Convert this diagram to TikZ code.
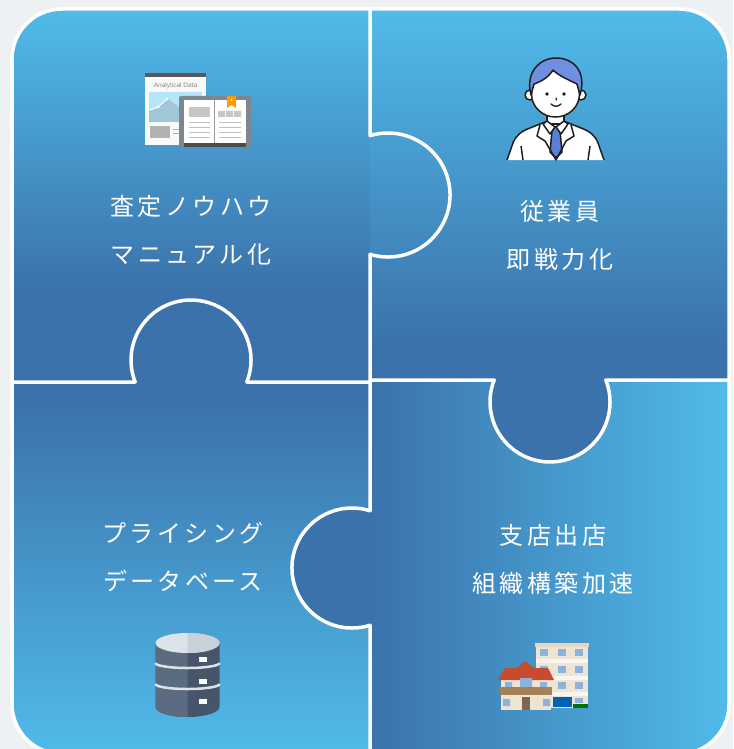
\documentclass[tikz,border=0pt]{standalone}
\usepackage{fontspec}
\usepackage{xcolor}
\newfontfamily\jpfont[LetterSpace=14]{Noto Sans CJK JP}
\newfontfamily\tinyfont{Liberation Sans}

\definecolor{pzlight}{HTML}{50BBEA}
\definecolor{pzdark}{HTML}{3B72AB}
\definecolor{bgcol}{HTML}{EEF1F4}
\definecolor{inkcol}{HTML}{1E1E1E}
\definecolor{hairblue}{HTML}{6F8FE0}
\definecolor{tieblue}{HTML}{5B7FD8}
\definecolor{dbside}{HTML}{5B6B80}
\definecolor{dbshadow}{HTML}{46556A}
\definecolor{dbtop}{HTML}{DCE4EA}
\definecolor{wallcol}{HTML}{EEE4D4}
\definecolor{roofred}{HTML}{C94A2E}
\definecolor{winblue}{HTML}{8DB3DD}
\definecolor{bookgray}{HTML}{7D8790}

\begin{document}
\begin{tikzpicture}[x=1pt,y=-1pt]
    \tikzstyle{pztext} = [text=white, font=\jpfont\fontsize{24}{48}\selectfont, align=center]
    \tikzstyle{seam} = [white, line width=3.5pt, line join=round]
    \tikzstyle{ink} = [draw=inkcol, line width=1.5pt, line join=round]

    \useasboundingbox (0,0) rectangle (733,749);
    \fill[bgcol] (0,0) rectangle (733,749);

    % the four puzzle pieces
    \begin{scope}
        \clip[rounded corners=50pt] (12,9) rectangle (729,754);
        % top left
        \shade[top color=pzlight, bottom color=pzdark] (12,9) rectangle (370,290);
        \fill[pzdark] (12,290) rectangle (370,382);
        \begin{scope}
            \clip (388,195) circle[radius=62];
            \shade[top color=pzlight, bottom color=pzdark] (12,9) rectangle (460,290);
        \end{scope}
        % top right
        \shade[top color=pzlight, bottom color=pzdark] (370,9) rectangle (729,345);
        \fill[pzdark] (370,345) rectangle (729,380);
        % bottom left
        \fill[pzdark] (12,382) rectangle (370,400);
        \shade[top color=pzdark, bottom color=pzlight] (12,400) rectangle (370,754);
        \begin{scope}
            \clip (12,290) rectangle (370,382);
            \fill[pzdark] (191,360) circle[radius=60];
        \end{scope}
        % bottom right
        \shade[left color=pzdark, right color=pzlight] (370,380) rectangle (729,754);
        \begin{scope}
            \clip (285,380) rectangle (370,754);
            \fill[pzdark] (352,568) circle[radius=60];
        \end{scope}
        \fill[pzdark] (550,402) circle[radius=60];
    \end{scope}

    % seams between the pieces
    \draw[seam] (370,9) -- (370,135.7) arc[start angle=-106.9, end angle=106.9, radius=62] -- (370,382);
    \draw[seam] (370,380) -- (370,510.8) arc[start angle=-72.5, end angle=-287.5, radius=60] -- (370,754);
    \draw[seam] (12,382) -- (135.2,382) arc[start angle=158.5, end angle=381.5, radius=60] -- (370,382);
    \draw[seam] (370,380) -- (494.2,380) arc[start angle=201.5, end angle=-21.5, radius=60] -- (729,380);
    \draw[seam, rounded corners=50pt] (12,9) rectangle (729,754);

    % report sheet and open book
    \fill[white!95!gray] (145,73) rectangle (206,145);
    \fill[black!65] (145,73) rectangle (206,77);
    \node[text=black!45, inner sep=0pt] (doctitle) at (175.5,85.5) {\tinyfont\fontsize{6.5}{7}\selectfont Analytical Data};
    \fill[cyan!30!white] (149,92) rectangle (202,122);
    \fill[cyan!45!gray!60] (149,122) -- (149,110) -- (158,107) -- (167,98) -- (180,108) -- (192,103) -- (202,98) -- (202,122) -- cycle;
    \draw[white, line width=1pt] (150,110) -- (158,107) -- (167,99);
    \fill[white] (158,107) circle[radius=1.5] (167,99) circle[radius=1.5];
    \fill[black!30] (150,126) rectangle (170,138);
    \draw[black!30, line width=0.8pt] (173,129) -- (179,129) (173,133) -- (179,133);
    \fill[bookgray, rounded corners=2pt] (179,96) rectangle (251,148);
    \fill[white] (184,100) rectangle (246,143);
    \fill[black!70] (184,143) rectangle (246,147);
    \draw[black!40, line width=0.8pt] (214.5,100) -- (214.5,143);
    \fill[black!22] (189,107) rectangle (210,117);
    \fill[black!22] (218,111) rectangle (225,117) (226,111) rectangle (233,117) (234,111) rectangle (241,117);
    \foreach \ly in {122,127,132,137} {
        \draw[black!25, line width=0.8pt] (189,\ly) -- (210,\ly) (219,\ly) -- (241,\ly);
    }
    \fill[orange!80!yellow] (227,96) -- (236,96) -- (236,108) -- (231.5,105) -- (227,108) -- cycle;
    \fill[white] (231.5,100) circle[radius=1];

    % staff member
    \filldraw[ink, fill=white] (507,160) -- (513,143) .. controls (516,135) and (522,131) .. (530,128) -- (545,122) -- (566,122) -- (581,128) .. controls (589,131) and (595,135) .. (598,143) -- (604,160);
    \filldraw[ink, fill=white] (547,110) rectangle (564,124);
    \filldraw[ink, fill=tieblue] (553,127) -- (559,127) -- (560,131) -- (562,152) -- (556,158) -- (550,152) -- (552,131) -- cycle;
    \filldraw[ink, fill=white] (547,121) -- (555,127) -- (550,134) -- (543,124) -- cycle;
    \filldraw[ink, fill=white] (564,121) -- (556,127) -- (561,134) -- (568,124) -- cycle;
    \draw[ink] (540,125) -- (537,136) -- (545,141) -- (556,160) -- (566,141) -- (574,136) -- (571,125);
    \draw[ink] (521,146) -- (523,160) (590,146) -- (588,160);
    \filldraw[ink, fill=white] (530,95) circle[radius=5] (581,95) circle[radius=5];
    \filldraw[ink, fill=white] (555.5,94) ellipse[x radius=24, y radius=23];
    \filldraw[ink, fill=hairblue] (531,95) .. controls (525,72) and (540,58) .. (556,58) .. controls (573,58) and (587,71) .. (580,95) -- (577,84) .. controls (569,80) and (559,76) .. (553,70) .. controls (548,78) and (540,82) .. (534,84) -- cycle;
    \fill[inkcol] (547,94) circle[radius=1.8] (564,94) circle[radius=1.8];
    \draw[inkcol, line width=1.2pt, line cap=round] (556,98) -- (556.5,100);
    \draw[inkcol, line width=1.3pt, line cap=round] (551,104) .. controls (554,107) and (558,107) .. (561,104);

    % database
    \fill[dbshadow] (155.5,643) -- (155.5,707) arc[start angle=180, end angle=0, x radius=32, y radius=10] -- (219.5,643) -- cycle;
    \fill[dbside] (155.5,643) -- (155.5,707) arc[start angle=180, end angle=90, x radius=32, y radius=10] -- (187.5,643) -- cycle;
    \foreach \by in {663,684} {
        \draw[dbtop, line width=2.5pt] (155.5,\by) arc[start angle=180, end angle=0, x radius=32, y radius=5];
    }
    \fill[dbtop] (187.5,643) ellipse[x radius=32, y radius=10];
    \fill[dbtop!85!dbside] (187.5,633) arc[start angle=-90, end angle=90, x radius=32, y radius=10] -- cycle;
    \foreach \ty in {657,679,699} {
        \fill[white!90!dbtop] (199,\ty) rectangle (207,\ty+5);
    }

    % apartment block and house
    \fill[wallcol] (536,645) rectangle (588,708);
    \fill[wallcol!85!brown] (535,643) rectangle (589,647);
    \foreach \fy in {659,676,692} {
        \fill[white!70!wallcol] (536,\fy) rectangle (588,\fy+4);
    }
    \foreach \wx in {540,558,575} {
        \foreach \wy in {649,666,682} {
            \fill[winblue] (\wx,\wy) rectangle (\wx+8,\wy+7);
        }
    }
    \fill[blue!45!cyan!70!black] (553,697) rectangle (572,707);
    \fill[winblue] (575,698) rectangle (583,703);
    \fill[green!45!black] (573,704) rectangle (588,708);
    \fill[wallcol] (501,676) rectangle (551,710);
    \fill[roofred] (498,680) -- (505,668) -- (517,668) -- (525,661) -- (534,668) -- (548,668) -- (554,680) -- cycle;
    \fill[winblue] (505,682) rectangle (512,687) (520,678) rectangle (532,687) (540,682) rectangle (547,687);
    \fill[brown!60!gray] (500,687) rectangle (552,695);
    \fill[winblue] (503,699) rectangle (510,706) (543,699) rectangle (550,706);
    \fill[brown!50!black!80] (522,697) rectangle (530,710);

    % captions
    \node[pztext] (knowhow) at (191,230.5) {査定ノウハウ\\マニュアル化};
    \node[pztext] (staff) at (560,235.5) {従業員\\即戦力化};
    \node[pztext] (pricing) at (183,557.5) {プライシング\\データベース};
    \node[pztext] (branch) at (553,559) {支店出店\\組織構築加速};
\end{tikzpicture}
\end{document}
